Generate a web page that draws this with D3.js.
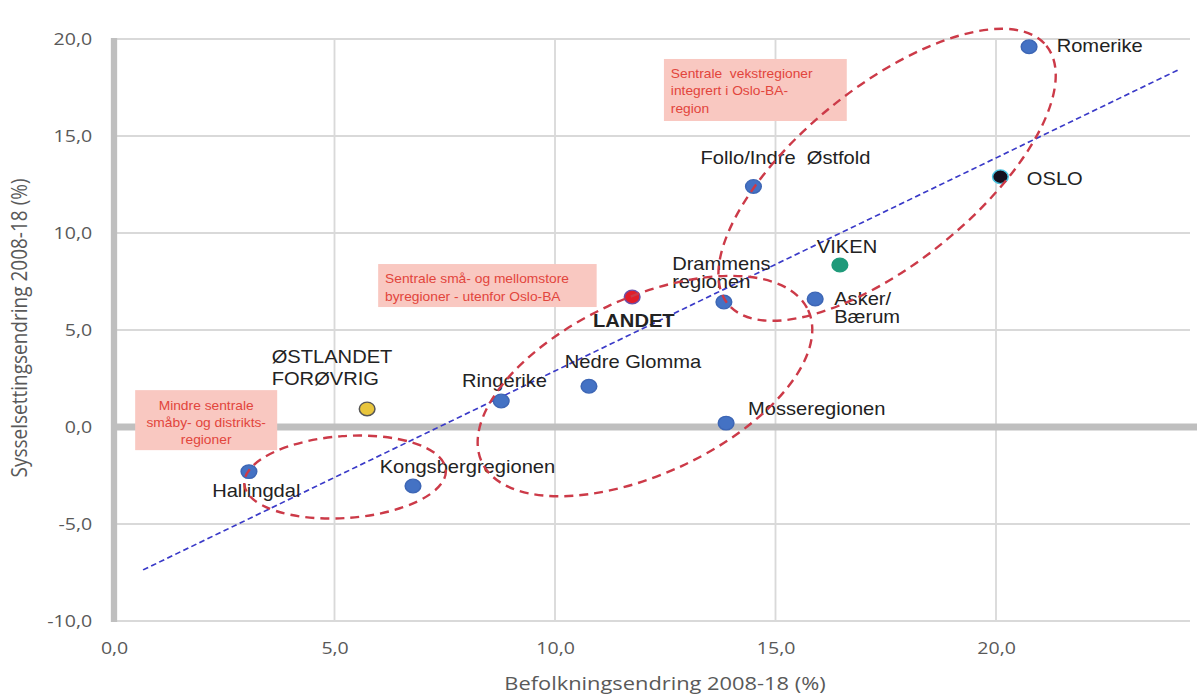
<!DOCTYPE html>
<html>
<head>
<meta charset="utf-8">
<script src="https://cdn.jsdelivr.net/npm/d3@7"></script>
<style>
  body { margin: 0; background: #fff; }
  svg { display: block; }
  .axis text { font-family: 'Open Sans', sans-serif; font-size: 17px; fill: #595959; }
  .axis-title { font-family: 'Open Sans', sans-serif; font-size: 19px; fill: #595959; }
  .label { font-family: 'Liberation Sans', Arial, sans-serif; font-size: 17.5px; fill: #222; white-space: pre; }
  .note { font-family: 'Liberation Sans', Arial, sans-serif; font-size: 12px; fill: #e2453c; }
</style>
</head>
<body>
<div id="root"></div>
<script>
// regions and their change 2008-18 (%)
const regions = ['Romerike', 'OSLO', 'Follo/Indre  Østfold', 'VIKEN', 'Asker/Bærum', 'Drammensregionen',
  'LANDET', 'Nedre Glomma', 'Ringerike', 'ØSTLANDET FORØVRIG', 'Mosseregionen', 'Hallingdal', 'Kongsbergregionen'];
const popChange = [20.75, 20.1, 14.5, 16.46, 15.9, 13.83, 11.75, 10.77, 8.78, 5.74, 13.88, 3.06, 6.78];
const jobChange = [19.6, 12.9, 12.4, 8.35, 6.6, 6.44, 6.7, 2.1, 1.34, 0.93, 0.2, -2.3, -3.04];

const xTicks = [0, 5, 10, 15, 20];
const yTicks = [-10, -5, 0, 5, 10, 15, 20];

// linear trend line: [slope, intercept] and x range
const trendCoef = [1.098, -8.09];
const trendRange = [0.66, 24.13];

// group annotations (ellipse centre in data units)
const groupNames = ['Sentrale  vekstregioner|integrert i Oslo-BA-|region',
  'Sentrale små- og mellomstore|byregioner - utenfor Oslo-BA',
  'Mindre sentrale|småby- og distrikts-|regioner'];
const groupCentres = [[17.53, 13.0], [12.04, 2.11], [5.24, -2.58]];
const groupBoxAt = [[12.47, 18.97], [5.99, 8.4], [0.48, 1.9]];

const dataset = regions.map((name, i) => ({ name, x: popChange[i], y: jobChange[i] }));

// look of things
const SX = 1.15; // the original is stretched sideways a bit
const dotStyle = {
  'OSLO': { fill: '#14101e', stroke: '#49c3e0' },
  'VIKEN': { fill: '#1f9a7a', stroke: '#1f9a7a' },
  'LANDET': { fill: '#e11d2a', stroke: '#6a4fa8' },
  'ØSTLANDET FORØVRIG': { fill: '#e8c53c', stroke: '#555' },
};
const labelStyle = {
  'Romerike': { dx: 24, dy: 5 },
  'OSLO': { dx: 23, dy: 8 },
  'Follo/Indre  Østfold': { dx: -46, dy: -22 },
  'VIKEN': { dx: -20, dy: -12 },
  'Asker/Bærum': { dx: 16.5, dy: 6, lines: ['Asker/', 'Bærum'], lh: 18 },
  'Drammensregionen': { dx: -45, dy: -32, lines: ['Drammens', 'regionen'], lh: 18 },
  'LANDET': { dx: -34, dy: 30, bold: true },
  'Nedre Glomma': { dx: -21, dy: -18 },
  'Ringerike': { dx: -34, dy: -14 },
  'ØSTLANDET FORØVRIG': { dx: -83, dy: -46, lines: ['ØSTLANDET', 'FORØVRIG'], lh: 22 },
  'Mosseregionen': { dx: 19, dy: -8 },
  'Hallingdal': { dx: -32, dy: 25 },
  'Kongsbergregionen': { dx: -29, dy: -13 },
};
const ellipseStyle = [
  { rx: 205, ry: 88, angle: -39 },
  { rx: 180, ry: 88, angle: -25 },
  { rx: 101, ry: 41, angle: -4 },
];
const boxStyle = [
  { w: 159, h: 62, align: 'start', base: 19, lh: 17.5 },
  { w: 190, h: 43, align: 'start', base: 19, lh: 17.5 },
  { w: 123.5, h: 60, align: 'middle', base: 20, lh: 17 },
];

const width = 1197;
const height = 698;
const fmt = d => d.toFixed(1).replace('.', ',');

const svg = d3.select('#root').append('svg')
  .attr('width', width)
  .attr('height', height);

const chart = svg.append('g')
  .attr('transform', `scale(${SX},1)`);

const xScale = d3.scaleLinear()
  .domain([0, 25])
  .range([114 / SX, (114 + 25 * 44.1) / SX]);

const yScale = d3.scaleLinear()
  .domain([-10, 20])
  .range([621, 39]);

const right = 1190 / SX;

// grid
chart.append('g')
  .selectAll('line')
  .data(yTicks.filter(d => d !== 0))
  .enter()
  .append('line')
  .attr('x1', xScale(0))
  .attr('x2', right)
  .attr('y1', d => yScale(d))
  .attr('y2', d => yScale(d))
  .attr('stroke', '#d9d9d9')
  .attr('stroke-width', 1.8);

chart.append('g')
  .selectAll('line')
  .data(xTicks.filter(d => d !== 0))
  .enter()
  .append('line')
  .attr('x1', d => xScale(d))
  .attr('x2', d => xScale(d))
  .attr('y1', yScale(20))
  .attr('y2', yScale(-10))
  .attr('stroke', '#d9d9d9')
  .attr('stroke-width', 1.6);

// thick zero lines
chart.append('line')
  .attr('x1', xScale(0))
  .attr('x2', width / SX)
  .attr('y1', yScale(0))
  .attr('y2', yScale(0))
  .attr('stroke', '#bfbfbf')
  .attr('stroke-width', 7);

chart.append('line')
  .attr('x1', xScale(0))
  .attr('x2', xScale(0))
  .attr('y1', yScale(20) - 1)
  .attr('y2', yScale(-10) + 1)
  .attr('stroke', '#bfbfbf')
  .attr('stroke-width', 5.5);

// axes
const yAxis = d3.axisLeft(yScale)
  .tickValues(yTicks)
  .tickFormat(fmt)
  .tickSize(0)
  .tickPadding(19);

chart.append('g')
  .attr('class', 'axis')
  .attr('transform', `translate(${xScale(0)},0)`)
  .call(yAxis)
  .call(g => g.select('.domain').remove());

const xAxis = d3.axisBottom(xScale)
  .tickValues(xTicks)
  .tickFormat(fmt)
  .tickSize(0)
  .tickPadding(21);

chart.append('g')
  .attr('class', 'axis')
  .attr('transform', `translate(0,${yScale(-10)})`)
  .call(xAxis)
  .call(g => g.select('.domain').remove());

chart.append('text')
  .attr('class', 'axis-title')
  .attr('x', 665 / SX)
  .attr('y', 690)
  .attr('text-anchor', 'middle')
  .text('Befolkningsendring 2008-18 (%)');

chart.append('text')
  .attr('class', 'axis-title')
  .attr('transform', `translate(${27 / SX},328) rotate(-90)`)
  .attr('text-anchor', 'middle')
  .text('Sysselsettingsendring 2008-18 (%)');

// trend line
const trend = d3.line()
  .x(d => xScale(d))
  .y(d => yScale(trendCoef[0] * d + trendCoef[1]));

chart.append('path')
  .attr('d', trend(trendRange))
  .attr('fill', 'none')
  .attr('stroke', '#3a3ac8')
  .attr('stroke-width', 1.6)
  .attr('stroke-dasharray', '5,3');

// annotation boxes
const boxes = chart.append('g')
  .selectAll('g')
  .data(groupNames)
  .enter()
  .append('g')
  .attr('transform', (d, i) => `translate(${xScale(groupBoxAt[i][0])},${yScale(groupBoxAt[i][1])})`);

boxes.append('rect')
  .attr('width', (d, i) => boxStyle[i].w)
  .attr('height', (d, i) => boxStyle[i].h)
  .attr('fill', '#f9c8c1');

boxes.each(function (d, i) {
  const s = boxStyle[i];
  const t = d3.select(this).append('text')
    .attr('class', 'note')
    .attr('text-anchor', s.align);
  d.split('|').forEach((line, j) => {
    t.append('tspan')
      .attr('x', s.align === 'middle' ? s.w / 2 : 6)
      .attr('y', s.base + j * s.lh)
      .style('white-space', 'pre')
      .text(line);
  });
});

// dots
chart.append('g')
  .selectAll('circle')
  .data(dataset)
  .enter()
  .append('circle')
  .attr('cx', d => xScale(d.x))
  .attr('cy', d => yScale(d.y))
  .attr('r', 6.8)
  .attr('fill', d => (dotStyle[d.name] || {}).fill || '#4472c4')
  .attr('stroke', d => (dotStyle[d.name] || {}).stroke || '#3d66b5')
  .attr('stroke-width', 1.3);

// labels
const labels = chart.append('g')
  .selectAll('text')
  .data(dataset)
  .enter()
  .append('text')
  .attr('class', 'label')
  .style('font-weight', d => labelStyle[d.name].bold ? 'bold' : null);

labels.each(function (d) {
  const s = labelStyle[d.name];
  const lines = s.lines || [d.name];
  lines.forEach((line, j) => {
    d3.select(this).append('tspan')
      .attr('x', xScale(d.x) + s.dx)
      .attr('y', yScale(d.y) + s.dy + j * (s.lh || 0))
      .text(line);
  });
});

// group ellipses, drawn unstretched on top
svg.append('g')
  .selectAll('ellipse')
  .data(groupCentres)
  .enter()
  .append('ellipse')
  .attr('transform', (d, i) => `translate(${SX * xScale(d[0])},${yScale(d[1])}) rotate(${ellipseStyle[i].angle})`)
  .attr('rx', (d, i) => ellipseStyle[i].rx)
  .attr('ry', (d, i) => ellipseStyle[i].ry)
  .attr('fill', 'none')
  .attr('stroke', '#cc3a48')
  .attr('stroke-width', 2.4)
  .attr('stroke-dasharray', '9,6');
</script>
</body>
</html>
